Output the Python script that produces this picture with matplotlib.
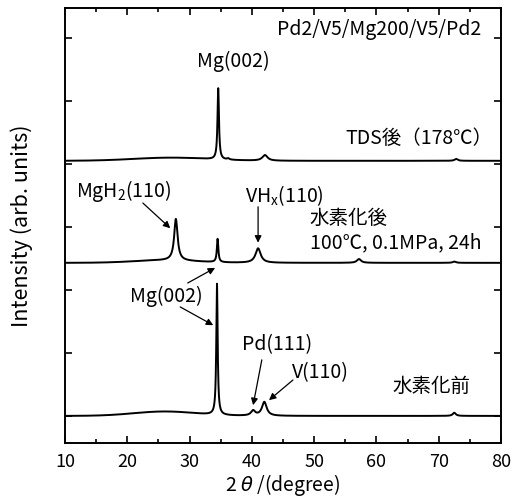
import numpy as np
import matplotlib
matplotlib.use("Agg")
import matplotlib.pyplot as plt

plt.rcParams['font.family'] = ['Noto Sans CJK JP', 'DejaVu Sans']
plt.rcParams['mathtext.fontset'] = 'custom'
plt.rcParams['mathtext.rm'] = 'Noto Sans CJK JP'

# ---- data: peak lists per pattern (position deg, height, half-width) ----
before_base = 0.0
before_pos = [26.0, 34.4, 40.2, 42.0, 72.5]
before_hgt = [0.07, 2.08, 0.08, 0.22, 0.05]
before_wid = [5.0, 0.13, 0.4, 0.45, 0.3]

after_base = 2.43
after_pos = [26.0, 27.8, 34.5, 41.0, 57.2, 72.5]
after_hgt = [0.04, 0.66, 0.37, 0.23, 0.06, 0.02]
after_wid = [5.0, 0.33, 0.14, 0.5, 0.4, 0.3]

tds_base = 4.05
tds_pos = [27.0, 34.6, 36.2, 42.1, 72.8]
tds_hgt = [0.05, 1.13, 0.02, 0.09, 0.03]
tds_wid = [6.0, 0.14, 0.2, 0.5, 0.3]

x_ticks = [10, 20, 30, 40, 50, 60, 70, 80]


def profile(x, base, pos, hgt, wid):
    y = np.full_like(x, base)
    for p, h, w in zip(pos, hgt, wid):
        if w > 2:
            y += h * np.exp(-0.5 * ((x - p) / w) ** 2)
        else:
            y += h / (1 + ((x - p) / w) ** 2)
    return y


x = np.arange(10, 80.001, 0.02)

fig = plt.figure(figsize=(5.12, 4.99), dpi=100)
ax = fig.add_axes([65 / 512, 1 - 443 / 499, 436 / 512, 435 / 499])

for base, pos, hgt, wid in [(before_base, before_pos, before_hgt, before_wid),
                            (after_base, after_pos, after_hgt, after_wid),
                            (tds_base, tds_pos, tds_hgt, tds_wid)]:
    ax.plot(x, profile(x, base, pos, hgt, wid), color='black', lw=1.4)

ax.set_xlim(10, 80)
ax.set_ylim(-0.43, 6.476)
ax.set_xticks(x_ticks)
ax.set_xticks(np.arange(15, 80, 10), minor=True)
ax.set_yticks(range(7))
ax.set_yticklabels([])
ax.tick_params(which='both', direction='in', top=True, right=True, width=1.2)
ax.tick_params(which='major', length=5, labelsize=13, pad=7)
ax.tick_params(which='minor', length=3)
for s in ax.spines.values():
    s.set_linewidth(1.4)

ax.set_xlabel('2 $\\mathit{\\theta}$ /(degree)', fontsize=14, labelpad=1)
ax.set_ylabel('Intensity (arb. units)', fontsize=15.5, labelpad=16)

fs = 14
ax.text(76.8, 6.13, 'Pd2/V5/Mg200/V5/Pd2', fontsize=fs, ha='right', va='center')
ax.text(37.1, 5.62, 'Mg(002)', fontsize=fs, ha='center', va='center')
ax.text(55.0, 4.41, 'TDS後（178℃）', fontsize=fs, ha='left', va='center')
ax.text(11.8, 3.57, 'MgH$_{\\mathregular{2}}$(110)', fontsize=fs, ha='left', va='center')
ax.text(38.9, 3.49, 'VH$_{\\mathregular{x}}$(110)', fontsize=fs, ha='left', va='center')
ax.text(49.3, 3.14, '水素化後', fontsize=fs, ha='left', va='center')
ax.text(49.3, 2.75, '100℃, 0.1MPa, 24h', fontsize=fs, ha='left', va='center')
ax.text(20.4, 1.89, 'Mg(002)', fontsize=fs, ha='left', va='center')
ax.text(38.4, 1.13, 'Pd(111)', fontsize=fs, ha='left', va='center')
ax.text(46.4, 0.68, 'V(110)', fontsize=fs, ha='left', va='center')
ax.text(62.5, 0.46, '水素化前', fontsize=fs, ha='left', va='center')

arrows = [((22.5, 3.38), (26.9, 2.98)),
          ((41.0, 3.32), (41.0, 2.75)),
          ((29.7, 2.11), (34.1, 2.35)),
          ((28.5, 1.73), (33.8, 1.44)),
          ((41.6, 0.89), (40.2, 0.17)),
          ((46.6, 0.57), (42.75, 0.25))]
for (x0, y0), (x1, y1) in arrows:
    ax.annotate('', xy=(x1, y1), xytext=(x0, y0),
                arrowprops=dict(arrowstyle='-|>', color='black', lw=0.9,
                                mutation_scale=10, shrinkA=0, shrinkB=0))

fig.savefig('out.png', dpi=100)
